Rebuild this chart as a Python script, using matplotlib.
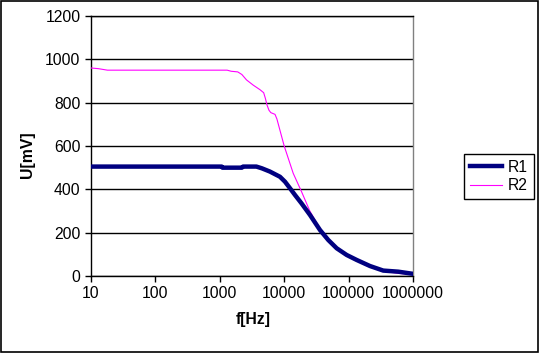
import matplotlib.pyplot as plt
from matplotlib.patches import Rectangle

plt.rcParams['font.family'] = ['Liberation Sans', 'DejaVu Sans']

# R1 readings: frequency (Hz), voltage (mV)
r1_f = [10, 1070, 1100, 2200, 2300, 3700, 4500, 6000, 8600, 10300, 12300,
        14700, 18600, 25100, 36000, 48400, 65300, 93400, 133600, 215000,
        345000, 590000, 1000000]
r1_u = [505, 505, 500, 500, 505, 505, 497, 482, 458, 435, 405,
        374, 335, 282, 212, 166, 128, 97, 74, 46,
        25, 20, 10]

# R2 readings
r2_f = [10, 13, 18, 1300, 1500, 1900, 2200, 2600, 3300, 4200, 4800, 5100,
        5400, 5800, 6200, 7200, 7700, 10000, 13800, 18600, 25000, 36000,
        48000, 62000, 95000, 135000, 215000, 345000, 600000, 1000000]
r2_u = [960, 957, 950, 950, 945, 942, 930, 905, 881, 860, 846, 820,
        790, 765, 754, 746, 725, 600, 474, 389, 300, 218,
        170, 130, 95, 72, 44, 22, 12, 7]

y_ticks = [0, 200, 400, 600, 800, 1000, 1200]
x_ticks = [10, 100, 1000, 10000, 100000, 1000000]
x_labels = ['10', '100', '1000', '10000', '100000', '1000000']

fig = plt.figure(figsize=(5.39, 3.53), dpi=100)
fig.patch.set_facecolor('white')
fig.add_artist(Rectangle((0.001, 0.002), 0.997, 0.995, transform=fig.transFigure,
                         fill=False, edgecolor='black', linewidth=1.2))

ax = fig.add_axes([91 / 539, 1 - 276 / 353, 322 / 539, 260 / 353])
ax.plot(r2_f, r2_u, color='#FF00FF', linewidth=0.8, label='R2', zorder=3)
ax.plot(r1_f, r1_u, color='#000080', linewidth=3.2, label='R1', zorder=4)

ax.set_xscale('log')
ax.set_xlim(10, 1000000)
ax.set_ylim(0, 1200)
ax.set_xticks(x_ticks)
ax.set_xticklabels(x_labels)
ax.minorticks_off()
ax.set_yticks(y_ticks)
ax.yaxis.grid(True, color='black', linewidth=1)
ax.set_axisbelow(True)
ax.tick_params(direction='out', length=4.5, width=1, labelsize=11.3, pad=3, colors='black')

ax.spines['right'].set_color('#808080')
ax.spines['top'].set_color('black')
for s in ax.spines.values():
    s.set_linewidth(1)

ax.set_ylabel('U[mV]', fontsize=11.3, fontweight='bold')
ax.yaxis.set_label_coords(-0.174, 0.465)
ax.set_xlabel('f[Hz]', fontsize=11.3, fontweight='bold')
ax.xaxis.set_label_coords(0.505, -0.138)

handles, labels = ax.get_legend_handles_labels()
leg = fig.legend(handles[::-1], labels[::-1], loc='center left',
                 bbox_to_anchor=(464 / 539, 1 - 176.5 / 353), fontsize=11.3,
                 frameon=True, fancybox=False, framealpha=1, edgecolor='black',
                 handlelength=2.0, handletextpad=0.4, borderpad=0.4,
                 labelspacing=0.2, borderaxespad=0)
leg.get_frame().set_linewidth(1)

fig.savefig('out.png', dpi=100)
